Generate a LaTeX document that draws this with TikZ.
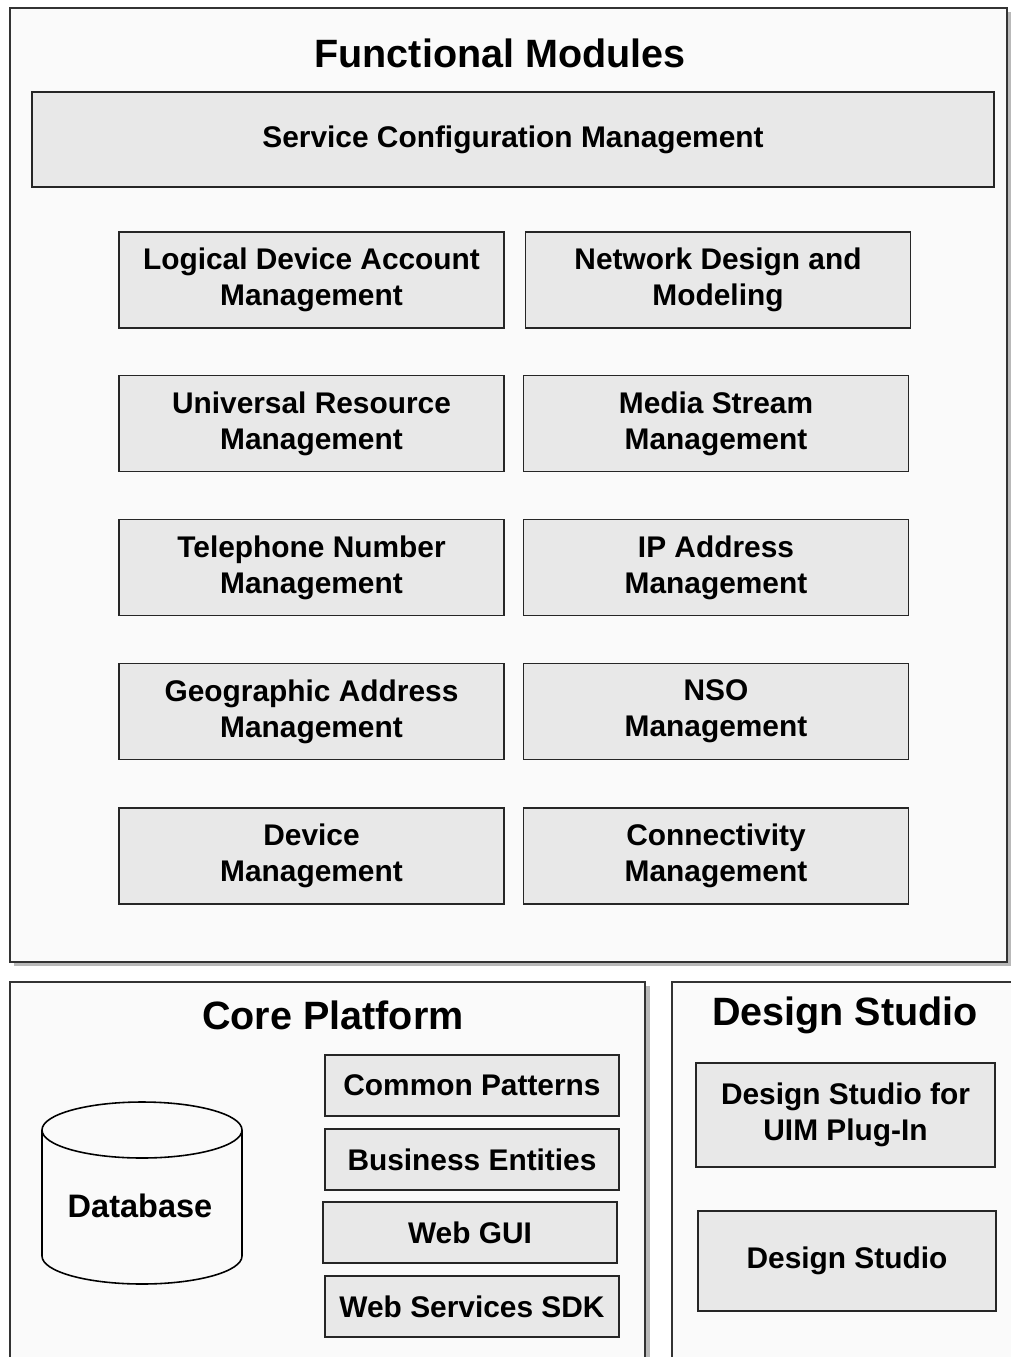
\documentclass[tikz,border=0pt]{standalone}
\usepackage{fontspec}
\setmainfont{Liberation Sans}
\begin{document}
\begin{tikzpicture}[x=0.02cm, y=-0.02cm,
    frame/.style={draw=black!80, line width=1.1pt, fill=gray!4},
    shadow/.style={fill=gray!55},
    title/.style={font=\bfseries\fontsize{22.5}{26}\selectfont},
    module/.style={draw=black!85, line width=1pt, fill=gray!18, align=center,
        inner sep=0pt, font=\bfseries\fontsize{17}{20.5}\selectfont},
    bigmod/.style={module, minimum width=7.7cm, minimum height=1.92cm},
    smallmod/.style={module, minimum width=5.88cm, minimum height=1.22cm}]
    \useasboundingbox (0,0) rectangle (1011,1357);
    \fill[white] (0,0) rectangle (1011,1357);

    % Functional modules frame
    \fill[shadow] (14,12) rectangle (1011,966);
    \draw[frame] (10,8) rectangle (1007,962);
    \node[title] (fmtitle) at (500,53) {Functional Modules};
    \node[module, minimum width=19.24cm, minimum height=1.9cm] (scm) at (513,139.5) {Service Configuration Management};

    % Left column
    \node[bigmod] (ldam) at (311.5,280) {Logical Device Account\\Management};
    \node[bigmod] (urm) at (311.5,423.5) {Universal Resource\\Management};
    \node[bigmod] (tnm) at (311.5,567.5) {Telephone Number\\Management};
    \node[bigmod] (gam) at (311.5,711.5) {Geographic Address\\Management};
    \node[bigmod] (dm) at (311.5,856) {Device\\Management};

    % Right column
    \node[bigmod] (ndm) at (718,280) {Network Design and\\Modeling};
    \node[bigmod] (msm) at (716,423.5) {Media Stream\\Management};
    \node[bigmod] (ipm) at (716,567.5) {IP Address\\Management};
    \node[bigmod] (nso) at (716,711.5) {NSO\\Management};
    \node[bigmod] (cm) at (716,856) {Connectivity\\Management};

    % Core platform frame
    \fill[shadow] (14,986) rectangle (650,1362);
    \draw[frame] (10,982) rectangle (645,1362);
    \node[title] (cptitle) at (333,1015) {Core Platform};

    % Database cylinder
    \draw[line width=0.9pt, fill=gray!4] (42,1130) -- (42,1256) arc[start angle=180, end angle=0, x radius=100, y radius=28]
        -- (242,1130) arc[start angle=0, end angle=-180, x radius=100, y radius=28];
    \draw[line width=0.9pt] (42,1130) arc[start angle=180, end angle=0, x radius=100, y radius=28];
    \node[font=\bfseries\fontsize{18.5}{22}\selectfont] (db) at (140,1206) {Database};

    \node[smallmod] (cpat) at (472,1085.5) {Common Patterns};
    \node[smallmod] (bent) at (472,1159.5) {Business Entities};
    \node[smallmod] (wgui) at (470,1232.5) {Web GUI};
    \node[smallmod] (wsdk) at (472,1306.5) {Web Services SDK};

    % Design studio frame
    \draw[frame] (672,982) rectangle (1020,1362);
    \node[title] (dstitle) at (845,1015) {Design Studio};
    \node[module, minimum width=5.98cm, minimum height=2.08cm] (dsuim) at (845.5,1115) {Design Studio for\\UIM Plug-In};
    \node[module, minimum width=5.96cm, minimum height=2cm] (ds) at (847,1261) {Design Studio};
\end{tikzpicture}
\end{document}
